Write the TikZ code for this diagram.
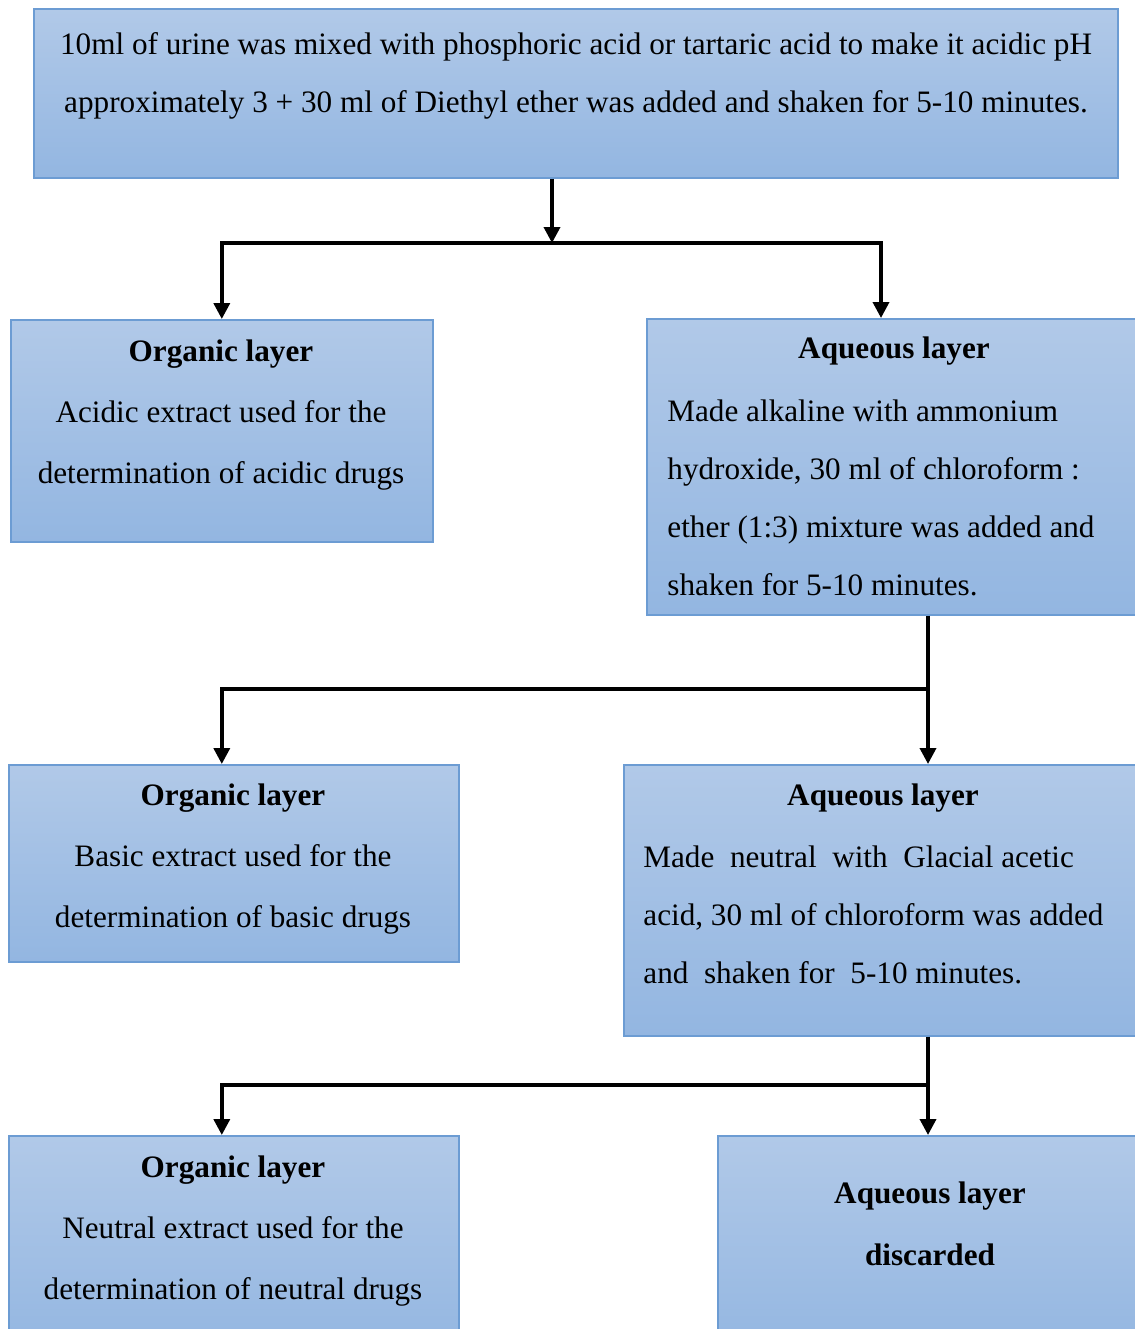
\documentclass[tikz,border=0pt]{standalone}
\usepackage{fontspec}
\setmainfont{Liberation Serif}
\usetikzlibrary{arrows.meta,positioning,calc}
\definecolor{boxtop}{HTML}{B1C9E8}
\definecolor{boxbottom}{HTML}{93B6E1}
\definecolor{boxline}{HTML}{6C9CD3}

\begin{document}
\begin{tikzpicture}
  [x=0.5pt, y=-0.5pt,
   layer/.style={
     draw=boxline,
     line width=0.8pt,
     top color=boxtop,
     bottom color=boxbottom,
     anchor=north west,
     inner sep=0pt
     },
   txt/.style={font=\fontsize{15.6}{29}\selectfont, inner sep=0pt},
   wide/.style={font=\fontsize{15.6}{30.5}\selectfont},
   flow/.style={line width=1.8pt, -{Triangle[width=8pt,length=8pt]}}
  ]
  \clip (0,0) rectangle (1135,1329);

  % BOXES
  \node[layer, minimum width=542pt, minimum height=84.5pt] (urine) at (33,8) {};
  \node[layer, minimum width=211pt, minimum height=111pt] (org1) at (10,319) {};
  \node[layer, minimum width=260pt, minimum height=148pt] (aq1) at (646,318) {};
  \node[layer, minimum width=225pt, minimum height=98.5pt] (org2) at (8,764) {};
  \node[layer, minimum width=270pt, minimum height=135.5pt] (aq2) at (623,764) {};
  \node[layer, minimum width=225pt, minimum height=110pt] (org3) at (8,1135) {};
  \node[layer, minimum width=225pt, minimum height=110pt] (aq3) at (717,1135) {};

  % TEXTS
  \node[txt, align=center] (urinetxt) at (576,76)
    {10ml of urine was mixed with phosphoric acid or tartaric acid to make it acidic pH\\
     approximately 3 + 30 ml of Diethyl ether was added and shaken for 5-10 minutes.};

  \node[txt, wide, align=center] (org1txt) at (221,415)
    {\textbf{Organic layer}\\ Acidic extract used for the\\ determination of acidic drugs};

  \node[txt] (aq1head) at (894,351) {\textbf{Aqueous layer}};
  \node[txt, align=left, anchor=west] (aq1txt) at (667,498)
    {Made alkaline with ammonium\\
     hydroxide, 30 ml of chloroform :\\
     ether (1:3) mixture was added and\\
     shaken for 5-10 minutes.};

  \node[txt, wide, align=center] (org2txt) at (233,859)
    {\textbf{Organic layer}\\ Basic extract used for the\\ determination of basic drugs};

  \node[txt] (aq2head) at (883,798) {\textbf{Aqueous layer}};
  \node[txt, align=left, anchor=west] (aq2txt) at (643,915)
    {Made\ \ neutral\ \ with\ \ Glacial acetic\\
     acid, 30 ml of chloroform was added\\
     and\ \ shaken for\ \ 5-10 minutes.};

  \node[txt, wide, align=center] (org3txt) at (233,1231)
    {\textbf{Organic layer}\\ Neutral extract used for the\\ determination of neutral drugs};

  \node[txt, align=center, font=\fontsize{15.6}{31}\selectfont\bfseries] (aq3txt) at (930,1224)
    {Aqueous layer\\ discarded};

  % ARROWS
  \coordinate (split1) at (552,243);
  \draw[flow] (urine.south -| split1) -- (split1);
  \draw[flow] (split1) -| (org1.north);
  \draw[flow] (split1) -| ($(aq1.north west)+(235,0)$);

  \coordinate (split2) at (928,689);
  \draw[flow] (aq1.south -| split2) -- (aq2.north -| split2);
  \draw[flow] (split2) -| (org2.north -| org1.north);

  \coordinate (split3) at (928,1085);
  \draw[flow] (aq2.south -| split3) -- (aq3.north -| split3);
  \draw[flow] (split3) -| (org3.north -| org1.north);
\end{tikzpicture}
\end{document}
